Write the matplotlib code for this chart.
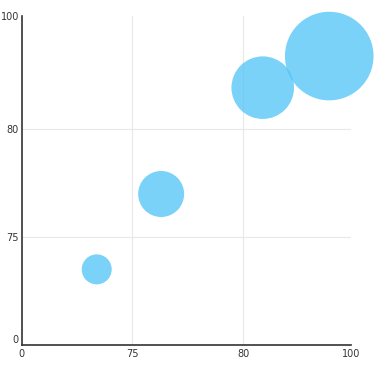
import numpy as np
import matplotlib
matplotlib.use("Agg")
import matplotlib.pyplot as plt

# данные пузырьков
x_vals = [50.9, 76.3, 83.6, 96.0]
y_vals = [51.5, 77.0, 87.3, 92.9]
z_vals = [15, 23, 31.3, 44.3]   # радиус пузырька

# подписи делений
x_ticks = [0, 75, 80, 100]
y_ticks = [0, 75, 80, 100]

# неравномерные оси: значение -> доля длины оси
x_breaks = [0, 75, 80, 100]
x_frac = [0, 0.336, 0.674, 1.0]
y_breaks = [-2, 0, 75, 80, 100]
y_frac = [0, 0.017, 0.327, 0.657, 1.0]


def fwd(breaks, frac):
    return lambda v: np.interp(v, breaks, frac)


def inv(breaks, frac):
    return lambda f: np.interp(f, frac, breaks)


fig = plt.figure(figsize=(3.76, 3.68), dpi=100)
ax = fig.add_axes([0.0577, 0.0625, 0.875, 0.894])

ax.set_xscale('function', functions=(fwd(x_breaks, x_frac), inv(x_breaks, x_frac)))
ax.set_yscale('function', functions=(fwd(y_breaks, y_frac), inv(y_breaks, y_frac)))
ax.set_xlim(0, 100)
ax.set_ylim(-2, 100)

# размер маркера в pt^2 из радиуса в пикселях
sizes = [(2 * r * 72 / fig.dpi) ** 2 for r in z_vals]
ax.scatter(x_vals, y_vals, s=sizes, color='#4fc3f7', alpha=0.75,
           linewidths=0, clip_on=False, zorder=3)

ax.set_xticks(x_ticks)
ax.set_xticklabels([str(t) for t in x_ticks])
ax.set_yticks(y_ticks)
ax.set_yticklabels([str(t) for t in y_ticks])
ax.tick_params(length=0, labelsize=7, labelcolor='#333333', pad=3)
ax.tick_params(axis='y', pad=2)

# сетка только по внутренним делениям
for v in x_ticks[1:-1]:
    ax.axvline(v, color='#e8e8e8', linewidth=0.8, zorder=0)
for v in y_ticks[1:-1]:
    ax.axhline(v, color='#e8e8e8', linewidth=0.8, zorder=0)

for side in ['top', 'right']:
    ax.spines[side].set_visible(False)
for side in ['left', 'bottom']:
    ax.spines[side].set_color('#333333')
    ax.spines[side].set_linewidth(1.2)

fig.savefig('out.png', dpi=100)
